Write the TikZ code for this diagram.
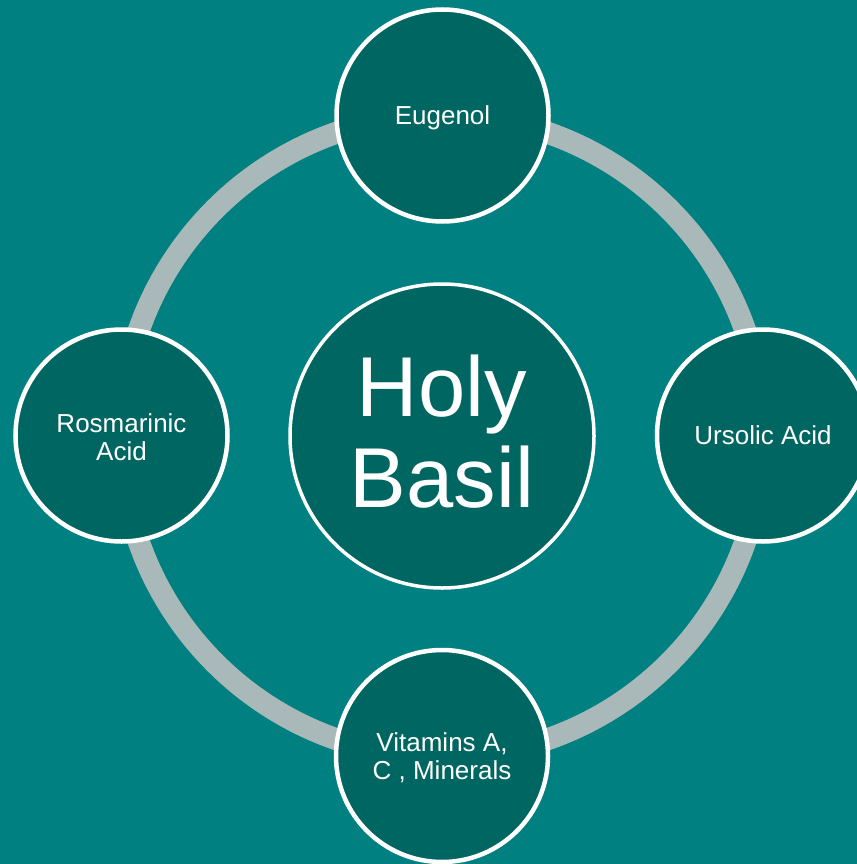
\documentclass[tikz,border=0pt]{standalone}
\usepackage{fontspec}
\setmainfont{Liberation Sans}
\definecolor{bgteal}{RGB}{0,128,128}
\definecolor{darkteal}{RGB}{0,102,97}
\definecolor{ringgray}{RGB}{169,185,185}
\tikzset{
  ring/.style={draw=ringgray, line width=22bp},
  satellite/.style={circle, fill=darkteal, draw=white, line width=4.5bp,
    minimum size=212bp, inner sep=0pt, text=white, align=center,
    font=\fontsize{26bp}{27.8bp}\selectfont},
  oneline/.style={text height=19bp, text depth=2bp},
  hub/.style={circle, fill=darkteal, draw=white, line width=3.5bp,
    minimum size=304bp, inner sep=0pt, text=white, align=center,
    font=\fontsize{85bp}{91bp}\selectfont}
}
\begin{document}
\begin{tikzpicture}[x=1bp,y=-1bp]
\useasboundingbox (0,0) rectangle (857,864);
\clip (0,0) rectangle (857,864);
\fill[bgteal] (0,0) rectangle (857,864);
\coordinate (o) at (442,436);
\draw[ring] (o) circle (321bp);
\node[hub] (hub) at (442,436) {Holy\\Basil\rule[-9bp]{0pt}{9bp}};
\node[satellite, oneline] (top) at (442.5,115.5) {Eugenol};
\node[satellite, oneline] (right) at (763,435.5) {Ursolic Acid};
\node[satellite] (bottom) at (442,756) {\rule{0pt}{22bp}Vitamins A,\\C , Minerals};
\node[satellite] (left) at (121.5,435.5) {\rule{0pt}{22bp}Rosmarinic\\Acid};
\end{tikzpicture}
\end{document}
